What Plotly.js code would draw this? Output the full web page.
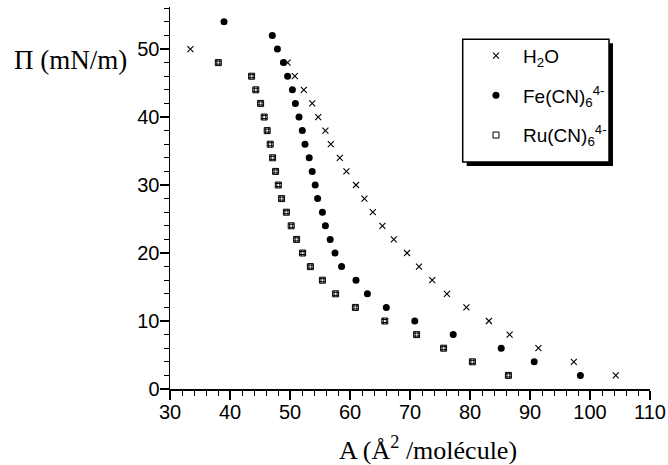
<!DOCTYPE html>
<html>
<head>
<meta charset="utf-8">
<script src="https://cdn.plot.ly/plotly-3.0.1.min.js"></script>
<style>html,body{margin:0;padding:0;background:#fff;}#chart{width:668px;height:465px;}</style>
</head>
<body>
<div id="chart"></div>
<script>
// Surface pressure Π (mN/m) vs area A (Å²/molécule)
const h2oArea = [33.4, 49.6, 50.8, 52.3, 53.7, 54.7, 55.9, 56.8, 58.3, 59.4, 61.0, 62.4, 63.8, 65.4, 67.3, 69.5, 71.5, 73.7, 76.15, 79.4, 83.15, 86.6, 91.4, 97.3, 104.3];
const h2oPi   = [50, 48, 46, 44, 42, 40, 38, 36, 34, 32, 30, 28, 26, 24, 22, 20, 18, 16, 14, 12, 10, 8, 6, 4, 2];

const feArea = [39.0, 47.05, 47.9, 48.9, 49.6, 50.4, 50.9, 51.5, 52.05, 52.5, 53.2, 53.7, 54.2, 54.6, 55.4, 55.9, 56.7, 57.5, 58.6, 61.0, 62.9, 66.05, 70.8, 77.2, 85.2, 90.7, 98.4];
const fePi   = [54, 52, 50, 48, 46, 44, 42, 40, 38, 36, 34, 32, 30, 28, 26, 24, 22, 20, 18, 16, 14, 12, 10, 8, 6, 4, 2];

const ruArea = [38.05, 43.6, 44.3, 45.1, 45.7, 46.2, 46.7, 47.1, 47.6, 48.05, 48.6, 49.4, 50.2, 51.1, 52.1, 53.4, 55.4, 57.6, 60.9, 65.8, 71.1, 75.6, 80.4, 86.4];
const ruPi   = [48, 46, 44, 42, 40, 38, 36, 34, 32, 30, 28, 26, 24, 22, 20, 18, 16, 14, 12, 10, 8, 6, 4, 2];

const seriesNames = ['H<sub>2</sub>O', 'Fe(CN)<sub>6</sub><sup>4-</sup>', 'Ru(CN)<sub>6</sub><sup>4-</sup>'];
const xTitle = 'A (Å<sup>2</sup> /molécule)';
const yTitle = 'Π (mN/m)';

const traces = [
  {x: h2oArea, y: h2oPi, name: seriesNames[0], type: 'scatter', mode: 'markers', legendgroup: 'a',
   marker: {symbol: 'x-thin', size: 6, color: '#000', line: {width: 1.1, color: '#000'}}},
  {x: feArea, y: fePi, name: seriesNames[1], type: 'scatter', mode: 'markers', legendgroup: 'b',
   marker: {symbol: 'circle', size: 7, color: '#000', line: {width: 0}}},
  {x: ruArea, y: ruPi, name: seriesNames[2], type: 'scatter', mode: 'markers', legendgroup: 'c',
   marker: {symbol: 'square-open', size: 6, color: '#000', line: {width: 1, color: '#000'}}},
  {x: ruArea, y: ruPi, name: seriesNames[2], type: 'scatter', mode: 'markers', legendgroup: 'c', showlegend: false,
   marker: {symbol: 'hash-open', size: 6, color: '#000', line: {width: 1, color: '#000'}}}
];

const tickFont = {family: 'Liberation Sans, Arial, sans-serif', size: 20, color: '#000'};
const axisCommon = {
  showgrid: false, zeroline: false, showline: true, linecolor: '#000', linewidth: 1.5,
  ticks: 'outside', ticklen: 9, tickwidth: 1.2, tickcolor: '#000', tickfont: tickFont,
  minor: {dtick: 2, ticks: 'outside', ticklen: 5, tickwidth: 1, tickcolor: '#000'}
};

const layout = {
  width: 668, height: 465,
  margin: {l: 170, r: 18, t: 7, b: 76, pad: 0},
  paper_bgcolor: '#fff', plot_bgcolor: '#fff',
  showlegend: true,
  xaxis: Object.assign({}, axisCommon, {range: [30, 110], tick0: 30, dtick: 10, ticklabelstandoff: -5}),
  yaxis: Object.assign({}, axisCommon, {range: [0, 56.18], tick0: 0, dtick: 10, ticklabelstandoff: -4}),
  legend: {
    x: 0.6229, y: 0.922, xanchor: 'left', yanchor: 'top',
    bgcolor: 'rgba(0,0,0,0)', borderwidth: 0,
    font: {family: 'Liberation Sans, Arial, sans-serif', size: 19, color: '#000'},
    traceorder: 'grouped', tracegroupgap: 12, itemwidth: 44
  },
  shapes: [
    {type: 'rect', xref: 'paper', yref: 'paper', x0: 0.6181, x1: 0.9229, y0: 0.5838, y1: 0.905,
     fillcolor: '#000', line: {width: 0}, layer: 'above'},
    {type: 'rect', xref: 'paper', yref: 'paper', x0: 0.6098, x1: 0.9146, y0: 0.5942, y1: 0.9154,
     fillcolor: '#fff', line: {width: 1.5, color: '#000'}, layer: 'above'}
  ],
  annotations: [
    {text: yTitle, xref: 'paper', yref: 'paper', x: -0.2083, y: 0.861, xanchor: 'center', yanchor: 'middle',
     showarrow: false, font: {family: 'Liberation Serif, Times New Roman, serif', size: 27, color: '#000'}},
    {text: xTitle, xref: 'paper', yref: 'paper', x: 0.5375, y: -0.1545, xanchor: 'center', yanchor: 'middle',
     showarrow: false, font: {family: 'Liberation Serif, Times New Roman, serif', size: 26, color: '#000'}}
  ]
};

Plotly.newPlot('chart', traces, layout, {staticPlot: true, displayModeBar: false});
</script>
</body>
</html>
